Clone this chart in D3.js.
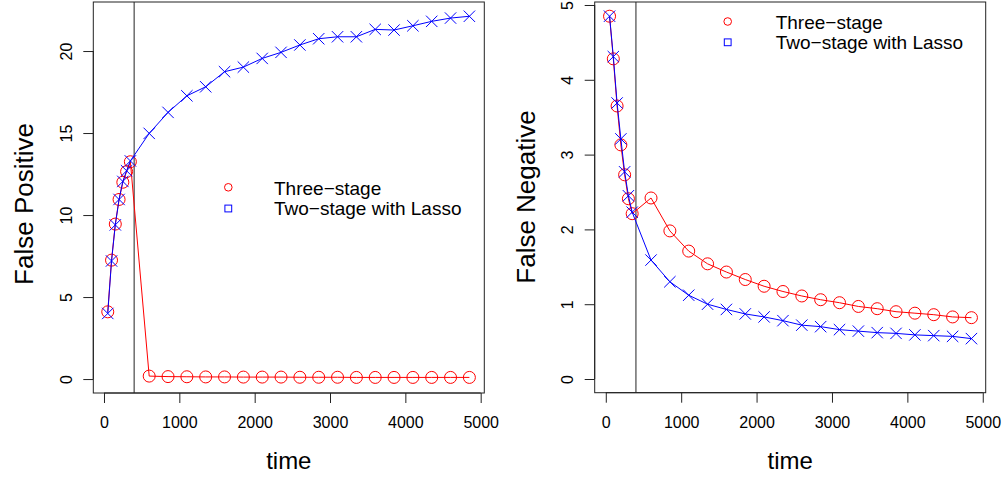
<!DOCTYPE html>
<html>
<head>
<meta charset="utf-8">
<script src="https://cdn.jsdelivr.net/npm/d3@7"></script>
<style>
  html, body { margin: 0; padding: 0; background: #fff; }
  svg { display: block; }
  text { font-family: "Liberation Sans", Arial, Helvetica, sans-serif; fill: #000; }
</style>
</head>
<body>
<svg id="chart" width="1003" height="477"></svg>
<script>
// ---- data ----
const timeVals = [50, 100, 150, 200, 250, 300, 350, 600, 850, 1100, 1350, 1600, 1850, 2100, 2350, 2600, 2850, 3100, 3350, 3600, 3850, 4100, 4350, 4600, 4850];
const fpThreeStage = [4.1, 7.25, 9.45, 10.95, 12.0, 12.65, 13.25, 0.18, 0.15, 0.14, 0.13, 0.13, 0.12, 0.12, 0.12, 0.11, 0.11, 0.11, 0.1, 0.1, 0.1, 0.1, 0.1, 0.1, 0.1];
const fpTwoStage = [4.0, 7.2, 9.4, 10.95, 12.05, 12.7, 13.3, 14.98, 16.26, 17.27, 17.82, 18.74, 19.02, 19.55, 19.92, 20.37, 20.75, 20.87, 20.87, 21.32, 21.28, 21.54, 21.81, 22.01, 22.12];
const fnThreeStage = [4.85, 4.28, 3.65, 3.13, 2.73, 2.41, 2.21, 2.42, 1.98, 1.71, 1.54, 1.43, 1.33, 1.24, 1.17, 1.11, 1.06, 1.02, 0.97, 0.94, 0.9, 0.88, 0.86, 0.83, 0.82];
const fnTwoStage = [4.85, 4.31, 3.69, 3.21, 2.77, 2.45, 2.23, 1.59, 1.3, 1.12, 1.0, 0.93, 0.87, 0.83, 0.78, 0.72, 0.7, 0.66, 0.64, 0.62, 0.61, 0.59, 0.58, 0.57, 0.54];
const xTicks = [0, 1000, 2000, 3000, 4000, 5000];
const fpTicks = [0, 5, 10, 15, 20];
const fnTicks = [0, 1, 2, 3, 4, 5];
const cutTime = 400;
const seriesNames = ["Three\u2212stage", "Two\u2212stage with Lasso"];
const seriesColors = ["#FF0000", "#0000FF"];

const svg = d3.select("#chart");

function drawPanel(cfg) {
  const g = svg.append("g");
  const x = d3.scaleLinear().domain(cfg.xDomain).range([cfg.left, cfg.right]);
  const y = d3.scaleLinear().domain(cfg.yDomain).range([cfg.bottom, cfg.top]);

  // box
  g.append("rect").attr("x", cfg.left).attr("y", cfg.top)
    .attr("width", cfg.right - cfg.left).attr("height", cfg.bottom - cfg.top)
    .attr("fill", "none").attr("stroke", "#222").attr("stroke-width", 1);

  // x axis
  const xa = g.append("g").attr("transform", `translate(0,${cfg.bottom})`)
    .call(d3.axisBottom(x).tickValues(xTicks).tickSize(10).tickPadding(14).tickFormat(d3.format("d")));
  xa.select(".domain").attr("d", `M${x(xTicks[0])},0H${x(xTicks[xTicks.length-1])}`).attr("stroke", "#222");
  xa.selectAll(".tick line").attr("stroke", "#222");
  xa.selectAll(".tick text").attr("font-size", 16).attr("font-family", "Liberation Sans, Arial, sans-serif").attr("fill", "#000");

  // y axis
  const ya = g.append("g").attr("transform", `translate(${cfg.left},0)`)
    .call(d3.axisLeft(y).tickValues(cfg.yTicks).tickSize(10).tickFormat(d3.format("d")));
  ya.select(".domain").attr("d", `M0,${y(cfg.yTicks[0])}V${y(cfg.yTicks[cfg.yTicks.length-1])}`).attr("stroke", "#222");
  ya.selectAll(".tick line").attr("stroke", "#222");
  ya.selectAll(".tick text")
    .attr("font-size", 16).attr("font-family", "Liberation Sans, Arial, sans-serif").attr("fill", "#000")
    .attr("x", null).attr("dy", null)
    .attr("text-anchor", "middle")
    .attr("transform", "translate(-21.5,0) rotate(-90)");

  // vertical line at cut
  g.append("line").attr("x1", x(cutTime)).attr("x2", x(cutTime))
    .attr("y1", cfg.top).attr("y2", cfg.bottom).attr("stroke", "#222").attr("stroke-width", 1);

  // axis titles
  g.append("text").attr("x", (cfg.left + cfg.right) / 2).attr("y", 469)
    .attr("text-anchor", "middle").attr("font-size", 24).text("time");
  g.append("text").attr("transform", `translate(${cfg.left - 60},${cfg.titleY}) rotate(-90)`)
    .attr("text-anchor", "middle").attr("font-size", 26).text(cfg.yTitle);

  const line = d3.line().x((d, i) => x(timeVals[i])).y(d => y(d));

  // red: three-stage, circles
  g.append("path").datum(cfg.red).attr("d", line)
    .attr("fill", "none").attr("stroke", seriesColors[0]).attr("stroke-width", 1);
  g.selectAll("circle.pt").data(cfg.red).enter().append("circle")
    .attr("cx", (d, i) => x(timeVals[i])).attr("cy", d => y(d)).attr("r", 6)
    .attr("fill", "none").attr("stroke", seriesColors[0]).attr("stroke-width", 1);

  // blue: two-stage, crosses
  g.append("path").datum(cfg.blue).attr("d", line)
    .attr("fill", "none").attr("stroke", seriesColors[1]).attr("stroke-width", 1);
  const s = 5.7;
  g.selectAll("path.cross").data(cfg.blue).enter().append("path")
    .attr("d", (d, i) => {
      const cx = x(timeVals[i]), cy = y(d);
      return `M${cx - s},${cy - s}L${cx + s},${cy + s}M${cx - s},${cy + s}L${cx + s},${cy - s}`;
    })
    .attr("fill", "none").attr("stroke", seriesColors[1]).attr("stroke-width", 1);

  // legend
  const lg = g.append("g");
  lg.append("circle").attr("cx", cfg.legX).attr("cy", cfg.legY0).attr("r", 3.8)
    .attr("fill", "none").attr("stroke", seriesColors[0]).attr("stroke-width", 1);
  lg.append("rect").attr("x", cfg.legX - 3.4).attr("y", cfg.legY1 - 3.4).attr("width", 6.8).attr("height", 6.8)
    .attr("fill", "none").attr("stroke", seriesColors[1]).attr("stroke-width", 1);
  lg.append("text").attr("x", cfg.legTextX).attr("y", cfg.legY0 + 7.5).attr("font-size", 19).text(seriesNames[0]);
  lg.append("text").attr("x", cfg.legTextX).attr("y", cfg.legY1 + 6.5).attr("font-size", 19).text(seriesNames[1]);
}

drawPanel({
  left: 93.3, right: 484.3, top: 2, bottom: 393,
  xDomain: [-142, 5048], yDomain: [-0.85, 22.99],
  yTicks: fpTicks, yTitle: "False Positive", titleY: 204,
  red: fpThreeStage, blue: fpTwoStage,
  legX: 228.3, legY0: 187.3, legY1: 208.5, legTextX: 274
});

drawPanel({
  left: 594.7, right: 985.7, top: 2, bottom: 392.7,
  xDomain: [-147, 5039], yDomain: [-0.183, 5.04],
  yTicks: fnTicks, yTitle: "False Negative", titleY: 197,
  red: fnThreeStage, blue: fnTwoStage,
  legX: 727.7, legY0: 21.5, legY1: 42.3, legTextX: 775.7
});
</script>
</body>
</html>
